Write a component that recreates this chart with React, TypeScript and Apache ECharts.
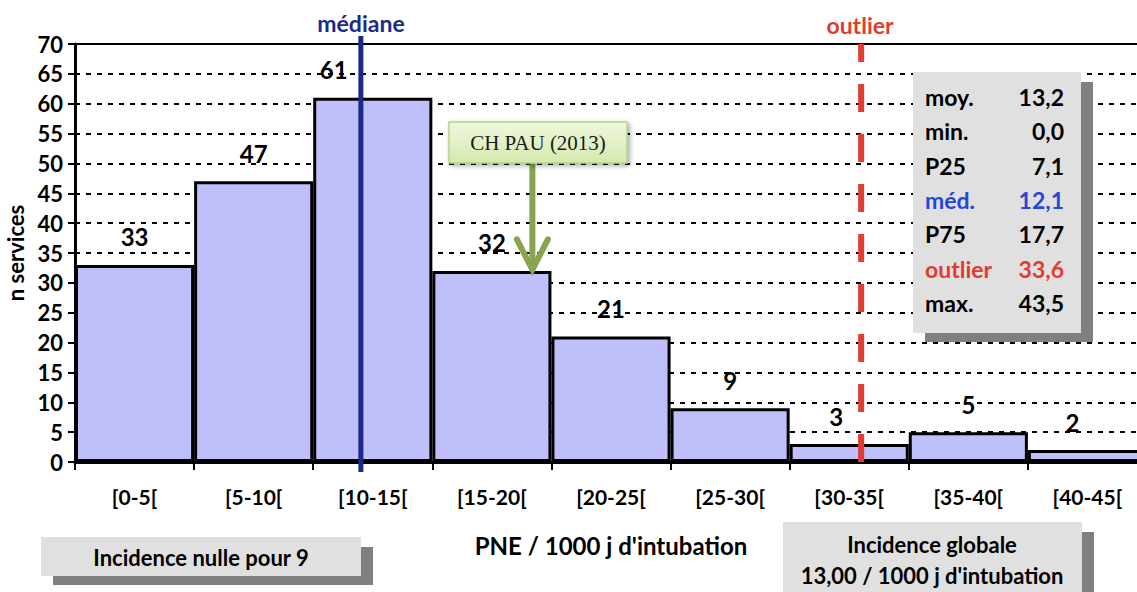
import React, { useEffect, useRef } from "react";
import * as echarts from "echarts";

// ---- data ----
const categories = ["[0-5[", "[5-10[", "[10-15[", "[15-20[", "[20-25[", "[25-30[", "[30-35[", "[35-40[", "[40-45["];
const counts = [33, 47, 61, 32, 21, 9, 3, 5, 2];
const yTicks = { min: 0, max: 70, interval: 5 };
const xRange = { min: 0, max: 45 };
const medianLineAt = 12.0;
const outlierLineAt = 33.0;
const chPauAt = 19.2;
const chPauFrom = 50;
const chPauValue = 32;
const statLabels = ["moy.", "min.", "P25", "méd.", "P75", "outlier", "max."];
const statValues = ["13,2", "0,0", "7,1", "12,1", "17,7", "33,6", "43,5"];
const statColors = ["#000", "#000", "#000", "#2647d6", "#000", "#e03c31", "#000"];

const FONT = "Lato, 'Open Sans', sans-serif";

export default function App() {
  const ref = useRef<HTMLDivElement>(null);
  useEffect(() => {
    if (!ref.current) return;
    const chart = echarts.init(ref.current, null, { renderer: "svg" });
    // label shifts (pixels) for labels moved aside from the reference lines
    const labelShift: Record<number, number> = { 2: -39, 6: -13, 8: -15 };
    const barData = counts.map((v, i) =>
      labelShift[i] != null ? { value: v, label: { offset: [labelShift[i], 0] } } : v
    );
    const statGraphics: any[] = [];
    statLabels.forEach((l, i) => {
      statGraphics.push({
        type: "text", x: 925, y: 97 + i * 34.3, z: 20,
        style: { text: l, font: `bold 23px ${FONT}`, fill: statColors[i], align: "left", verticalAlign: "middle" },
      });
      statGraphics.push({
        type: "text", x: 1064, y: 97 + i * 34.3, z: 20,
        style: { text: statValues[i], font: `bold 23px ${FONT}`, fill: statColors[i], align: "right", verticalAlign: "middle" },
      });
    });

    chart.setOption({
      animation: false,
      backgroundColor: "#fff",
      grid: [
        { left: 75, width: 1072, top: 44, bottom: 130, outerBoundsMode: "none", containLabel: false },
        { left: 75, width: 1072, top: 36, bottom: 120, outerBoundsMode: "none", containLabel: false },
      ],
      xAxis: [
        {
          type: "category", data: categories, gridIndex: 0,
          axisLine: { lineStyle: { color: "#000", width: 3 } },
          axisTick: { show: true, length: 8, lineStyle: { color: "#000", width: 2 } },
          axisLabel: { color: "#000", fontFamily: FONT, fontWeight: "bold", fontSize: 21, margin: 24 },
          name: "PNE / 1000 j d'intubation", nameLocation: "middle", nameGap: 71,
          nameTextStyle: { color: "#000", fontFamily: FONT, fontWeight: "bold", fontSize: 24 },
        },
        {
          type: "value", gridIndex: 0, position: "top", min: xRange.min, max: xRange.max,
          axisLine: { show: true, lineStyle: { color: "#000", width: 2 } },
          axisTick: { show: false }, axisLabel: { show: false }, splitLine: { show: false },
        },
        {
          type: "value", gridIndex: 1, min: xRange.min, max: xRange.max, show: false,
        },
      ],
      yAxis: [
        {
          type: "value", gridIndex: 0, min: yTicks.min, max: yTicks.max, interval: yTicks.interval,
          axisLine: { show: true, lineStyle: { color: "#000", width: 3 } },
          axisTick: { show: true, length: 7, lineStyle: { color: "#000", width: 2 } },
          axisLabel: { color: "#000", fontFamily: FONT, fontWeight: "bold", fontSize: 22, margin: 12 },
          splitLine: { show: true, lineStyle: { color: "#000", width: 2, type: [5, 6] } },
          name: "n services", nameLocation: "middle", nameGap: 42, nameRotate: 90,
          nameTextStyle: { color: "#000", fontFamily: FONT, fontWeight: "bold", fontSize: 22 },
        },
        { type: "value", gridIndex: 1, min: 0, max: 1, show: false },
      ],
      series: [
        {
          type: "bar", xAxisIndex: 0, yAxisIndex: 0, data: barData,
          barCategoryGap: 0,
          itemStyle: { color: "#bfbff9", borderColor: "#000", borderWidth: 3 },
          label: { show: true, position: "top", distance: 16, color: "#000", fontFamily: FONT, fontWeight: "bold", fontSize: 24 },
          z: 2,
        },
        {
          type: "line", xAxisIndex: 1, yAxisIndex: 0, data: [[outlierLineAt, yTicks.min], [outlierLineAt, yTicks.max]],
          symbol: "none", lineStyle: { color: "#e03c31", width: 6, type: [28, 22] }, z: 5,
        },
        {
          type: "line", xAxisIndex: 2, yAxisIndex: 1, data: [[medianLineAt, 0], [medianLineAt, 1]],
          symbol: "none", lineStyle: { color: "#1b2a86", width: 5 }, z: 6,
        },
        {
          type: "line", xAxisIndex: 1, yAxisIndex: 0, data: [[chPauAt, chPauFrom], [chPauAt, chPauValue + 0.4]],
          symbol: "none", lineStyle: { color: "#88a44c", width: 6, cap: "butt" }, z: 7,
        },
        {
          type: "line", xAxisIndex: 1, yAxisIndex: 0,
          data: [[chPauAt - 0.65, chPauValue + 5.3], [chPauAt, chPauValue + 0.2], [chPauAt + 0.65, chPauValue + 5.3]],
          symbol: "none", lineStyle: { color: "#88a44c", width: 6, cap: "round", join: "miter" }, z: 7,
        },
      ],
      graphic: [
        { type: "text", x: 361, y: 23, z: 20, style: { text: "médiane", font: `bold 23px ${FONT}`, fill: "#1b2a86", align: "center", verticalAlign: "middle" } },
        { type: "text", x: 860, y: 25, z: 20, style: { text: "outlier", font: `bold 23px ${FONT}`, fill: "#e03c31", align: "center", verticalAlign: "middle" } },
        // CH PAU label box
        {
          type: "rect", shape: { x: 449, y: 122, width: 178, height: 41 }, z: 20,
          style: {
            fill: new echarts.graphic.LinearGradient(0, 0, 0, 1, [
              { offset: 0, color: "#f0f8de" }, { offset: 1, color: "#d4e9ad" },
            ]),
            stroke: "#b7d48b", lineWidth: 1.5,
            shadowBlur: 5, shadowColor: "rgba(0,0,0,0.35)", shadowOffsetX: 2, shadowOffsetY: 2,
          },
        },
        { type: "text", x: 538, y: 143, z: 21, style: { text: "CH PAU (2013)", font: "21px 'Liberation Serif', serif", fill: "#1a1a1a", align: "center", verticalAlign: "middle" } },
        // stats box
        { type: "rect", shape: { x: 925, y: 82, width: 168, height: 260 }, z: 18, style: { fill: "#808080" } },
        { type: "rect", shape: { x: 913, y: 72, width: 168, height: 261 }, z: 19, style: { fill: "#e0e0e0" } },
        ...statGraphics,
        // bottom-left box
        { type: "rect", shape: { x: 53, y: 547, width: 320, height: 38 }, z: 18, style: { fill: "#808080" } },
        { type: "rect", shape: { x: 41, y: 537, width: 320, height: 39 }, z: 19, style: { fill: "#e0e0e0" } },
        { type: "text", x: 201, y: 557, z: 20, style: { text: "Incidence nulle pour 9", font: `bold 22px ${FONT}`, fill: "#000", align: "center", verticalAlign: "middle" } },
        // bottom-right box
        { type: "rect", shape: { x: 795, y: 532, width: 299, height: 70 }, z: 18, style: { fill: "#808080" } },
        { type: "rect", shape: { x: 783, y: 522, width: 299, height: 80 }, z: 19, style: { fill: "#e0e0e0" } },
        { type: "text", x: 932, y: 544, z: 20, style: { text: "Incidence globale", font: `bold 22px ${FONT}`, fill: "#000", align: "center", verticalAlign: "middle" } },
        { type: "text", x: 932, y: 575, z: 20, style: { text: "13,00 / 1000 j d'intubation", font: `bold 22px ${FONT}`, fill: "#000", align: "center", verticalAlign: "middle" } },
      ],
    });
    return () => chart.dispose();
  }, []);
  return <div ref={ref} style={{ width: 1137, height: 592, position: "absolute", left: 0, top: 0, overflow: "hidden" }} />;
}
